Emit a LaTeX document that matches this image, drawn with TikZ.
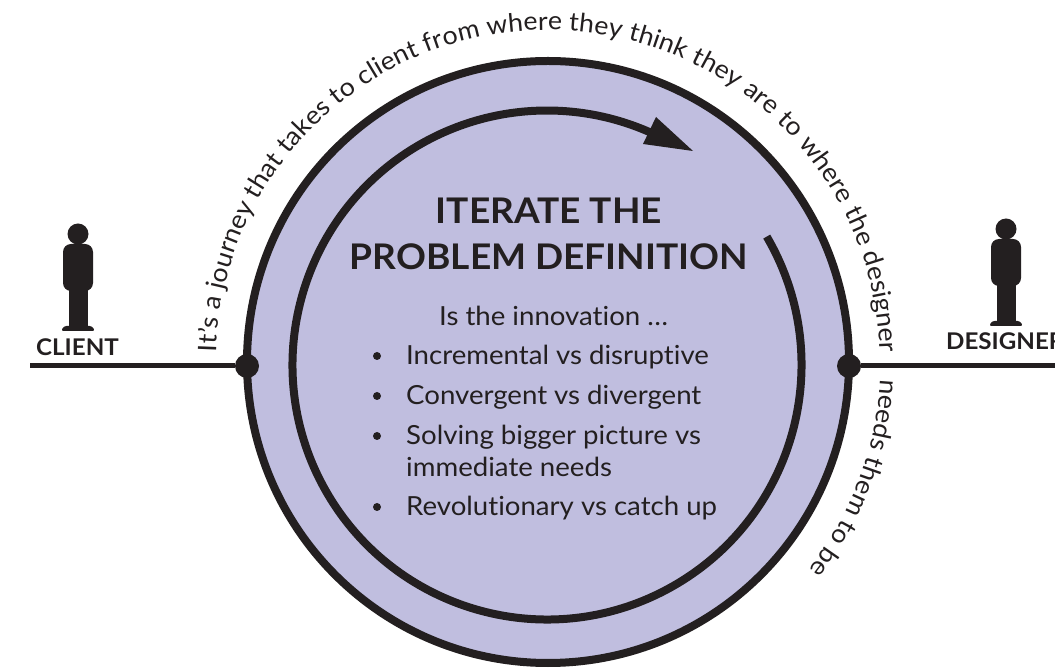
\documentclass[tikz,border=0pt]{standalone}
\usepackage{fontspec}
\setmainfont{Lato}[FakeStretch=1.05,Ligatures=NoCommon]
\usetikzlibrary{decorations.text}
\definecolor{ink}{HTML}{231F20}
\definecolor{lilac}{HTML}{C0BEDF}
\newcommand{\journeyfont}{\fontsize{25.5}{25.5}\selectfont\color{ink}}
\tikzset{
  ring/.style={circle,draw=ink,line width=8pt,fill=lilac,inner sep=0pt,minimum size=602pt},
  joint/.style={circle,fill=ink,inner sep=0pt,minimum size=24pt},
  wire/.style={draw=ink,line width=5pt},
  journey/.style={decorate,decoration={text along path,text align={fit to path},text={|\journeyfont|#1}}},
  heading/.style={text=ink,align=center,font=\fontsize{35.3}{46}\selectfont\bfseries},
  role/.style={text=ink,anchor=base west,font=\fontsize{23}{23}\selectfont\bfseries,inner sep=0pt},
  body/.style={text=ink,anchor=base west,font=\fontsize{26.3}{32}\selectfont,inner sep=0pt},
  bullet/.style={circle,fill=ink,inner sep=0pt,minimum size=8pt},
  person/.pic={
    \fill[ink] (0,0) circle (10.5);
    \fill[ink,rounded corners=8pt] (-15,-10) rectangle (15,-57);
    \fill[ink] (-9.5,-50) rectangle (9.5,-93);
    \fill[ink,rounded corners=2.5pt] (-17,-97) -- (-14,-92) -- (14,-92) -- (17,-97) -- cycle;
  }
}
\begin{document}
\begin{tikzpicture}[x=1pt,y=1pt]
\useasboundingbox (0,0) rectangle (1055,667);
% circles
\node[ring] (outer) at (548,305) {};
\draw[ink,line width=8pt] (547,302) ++(30.3:254.5) arc (30.3:-296:254.5);
\fill[ink] (693,516) -- (656,550) -- (643,523) -- cycle;
% joints and wires
\node[joint] (clientdot) at (247,301) {};
\node[joint] (designerdot) at (849,301) {};
\coordinate (clientend) at (30,301);
\coordinate (designerend) at (1060,301);
\draw[wire] (clientend) -- (clientdot);
\draw[wire] (designerdot) -- (designerend);
% people
\pic at (78,433) {person};
\pic at (1006,438) {person};
\node[role] (client) at (36,311) {CLIENT};
\node[role] (designer) at (946,317) {DESIGNER};
% text on the arc
\path[journey={It’s a journey that takes to client from where they think they are to where the designer}]
  (548,305) ++(178.3:332) arc (178.3:1.7:332);
\path[journey={needs them to be}]
  (548,305) ++(-3:333) arc (-3:-38.5:333);
% middle
\node[heading] (title) at (549,433) {ITERATE THE\\PROBLEM DEFINITION};
\node[body] (intro) at (439,341) {Is the innovation …};
\foreach \y/\t/\n in {302/Incremental vs disruptive/a,262/Convergent vs divergent/b,151/Revolutionary vs catch up/d}{
  \node[body] (item\n) at (406,\y) {\t};
  \node[bullet] (dot\n) at (377,\y+9) {};
}
\node[body] (itemc) at (406,222) {Solving bigger picture vs};
\node[body] (itemcc) at (406,190) {immediate needs};
\node[bullet] (dotc) at (377,231) {};
\end{tikzpicture}
\end{document}
